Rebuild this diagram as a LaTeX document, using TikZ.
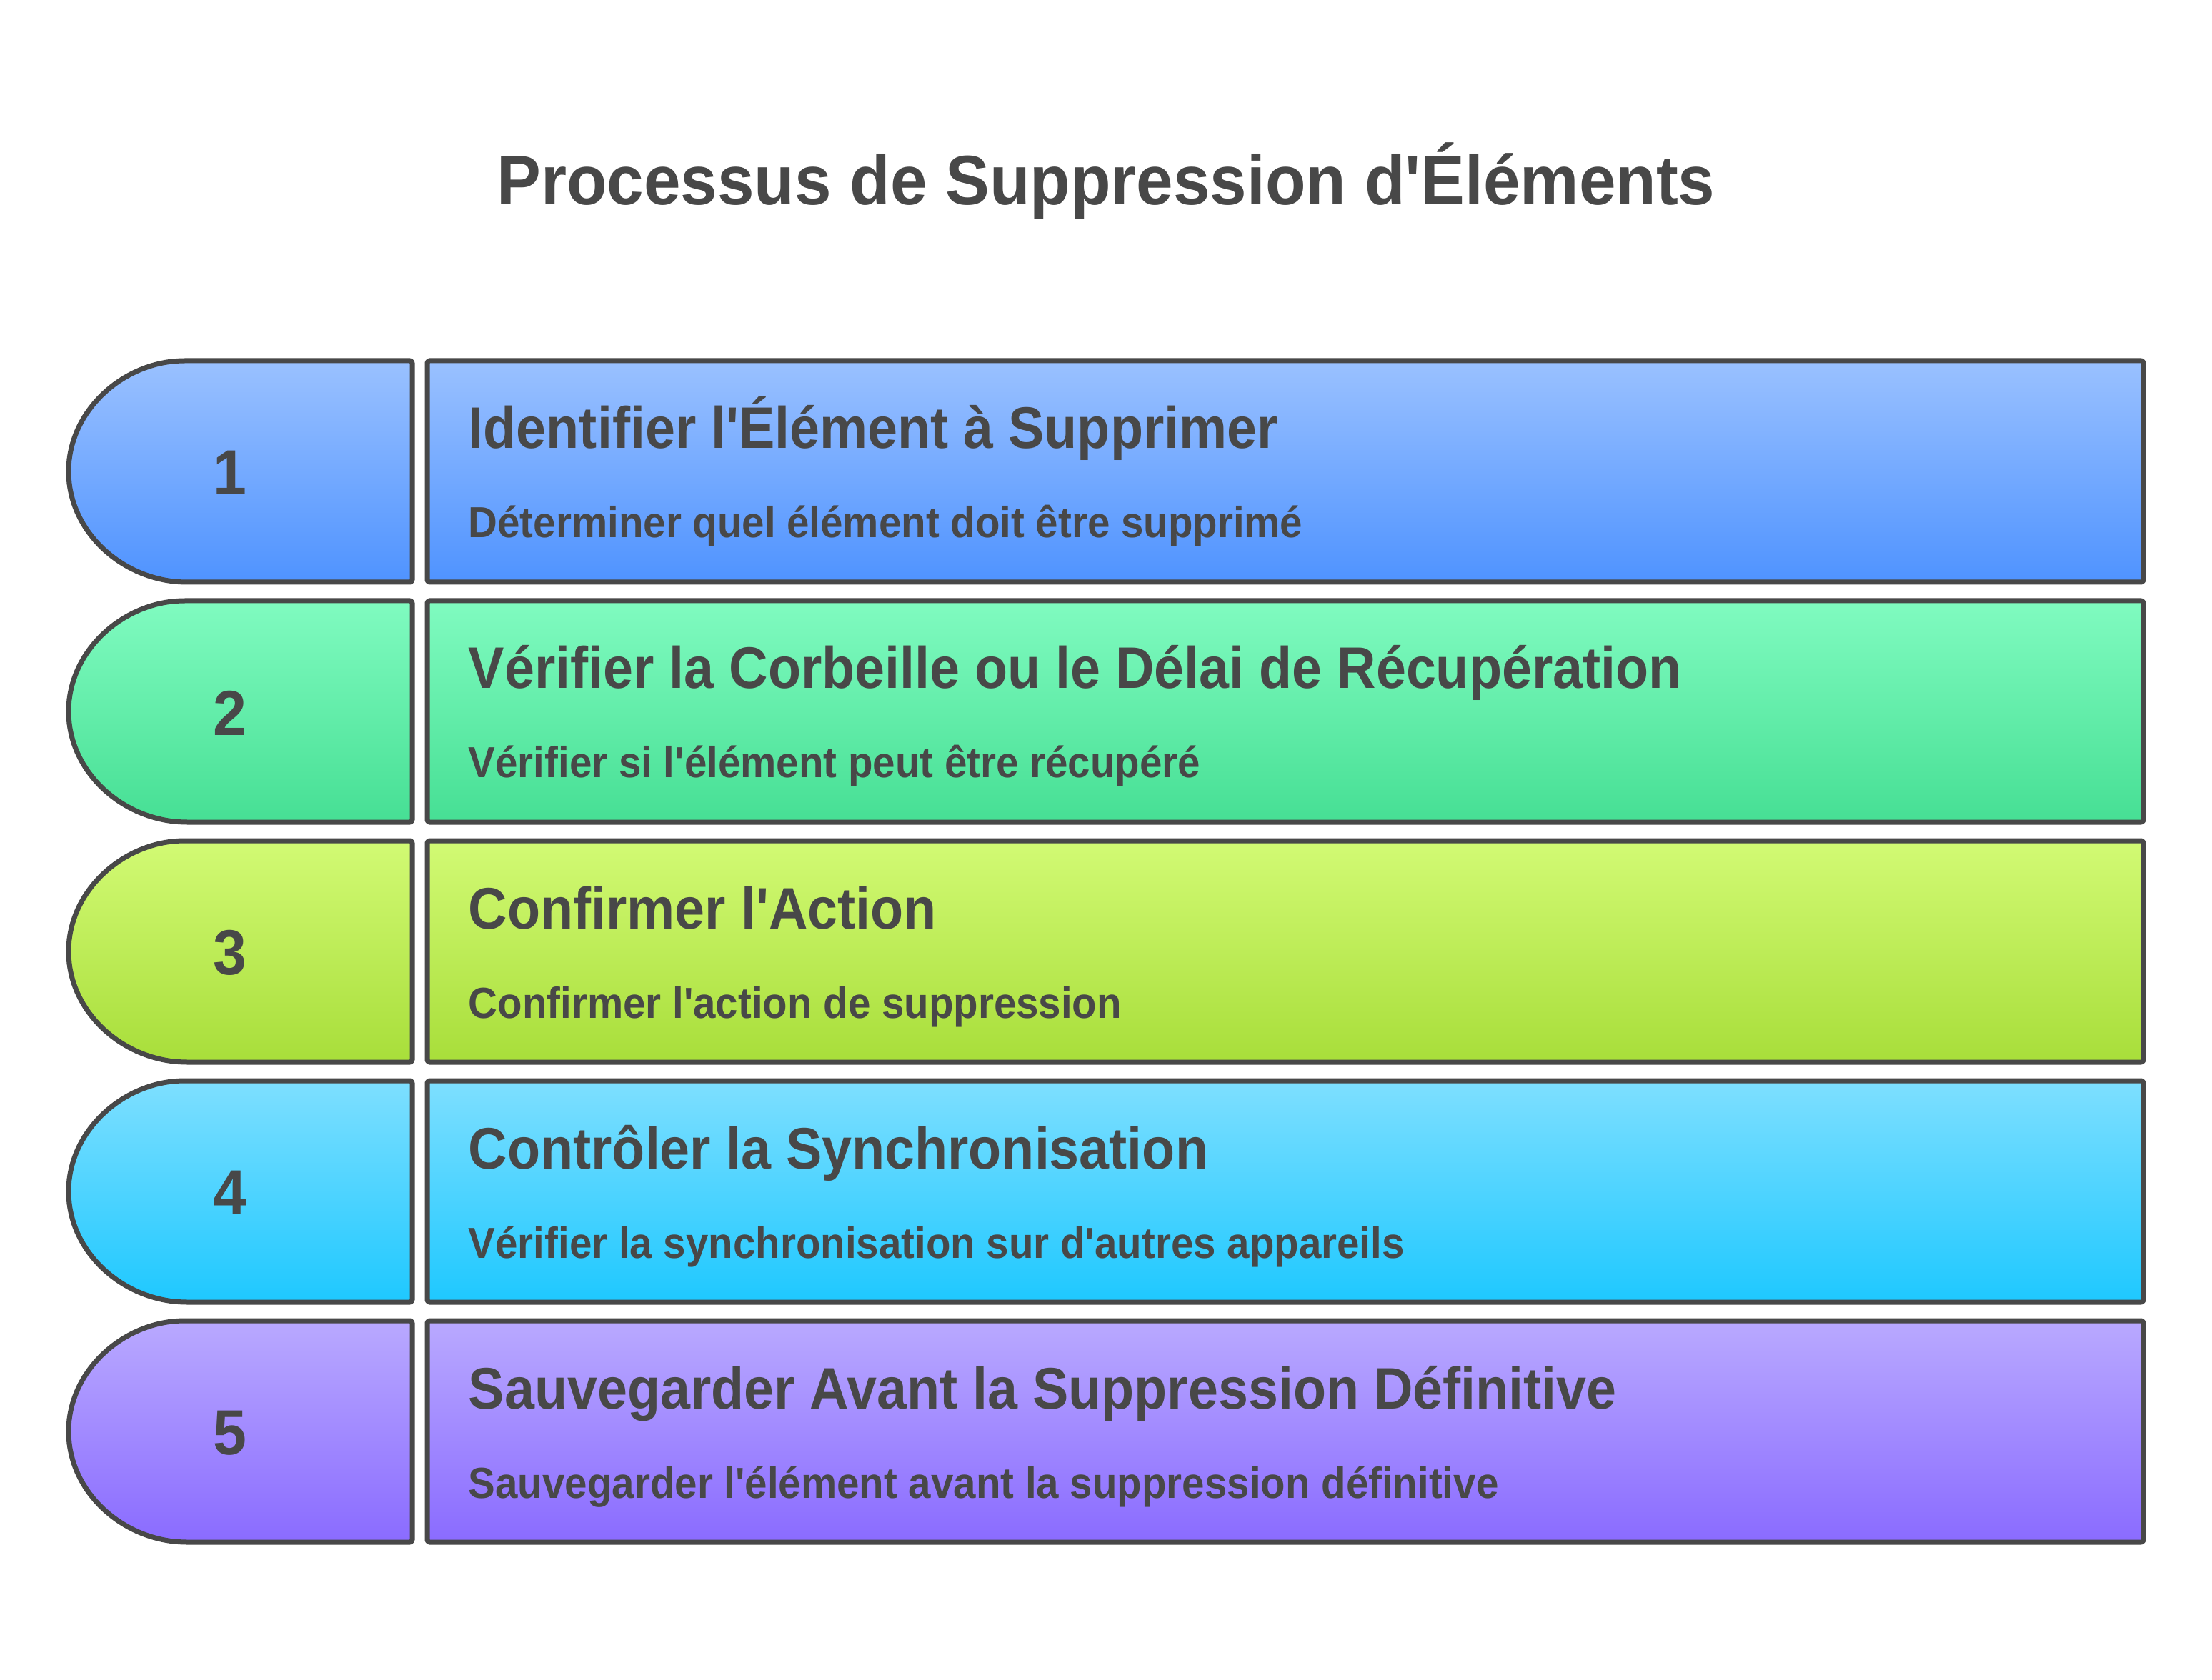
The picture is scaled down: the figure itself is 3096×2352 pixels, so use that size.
\documentclass[tikz,border=0pt]{standalone}
\usepackage{fontspec}
\setmainfont{Liberation Sans}
\newfontfamily\headfont{Liberation Sans}[FakeStretch=0.92]
\newfontfamily\subfont{Liberation Sans}[FakeStretch=0.929]
\newfontfamily\titlefont{Liberation Sans}[FakeStretch=0.945]
\usetikzlibrary{calc}
\definecolor{ink}{HTML}{484848}
\definecolor{aTop}{HTML}{9AC1FF}\definecolor{aBot}{HTML}{4F93FF}
\definecolor{bTop}{HTML}{80FBC0}\definecolor{bBot}{HTML}{46DF94}
\definecolor{cTop}{HTML}{D2FA74}\definecolor{cBot}{HTML}{A8DE3A}
\definecolor{dTop}{HTML}{7EDFFF}\definecolor{dBot}{HTML}{1EC8FF}
\definecolor{eTop}{HTML}{B9A9FF}\definecolor{eBot}{HTML}{8A6BFF}
\tikzset{
  boxline/.style={draw=ink, line width=1.75pt, line join=round},
  mainbox/.style={boxline, rectangle, rounded corners=0.8pt, minimum width=600.5pt, minimum height=77.5pt, inner sep=0pt, outer sep=0pt, anchor=north west},
  headtxt/.style={anchor=base west, inner sep=0pt, text=ink, font=\headfont\bfseries\fontsize{20.5pt}{24pt}\selectfont},
  subtxt/.style={anchor=base west, inner sep=0pt, text=ink, font=\subfont\bfseries\fontsize{15.2pt}{18pt}\selectfont},
  numtxt/.style={anchor=center, inner sep=0pt, text=ink, font=\titlefont\bfseries\fontsize{22.3pt}{26pt}\selectfont},
  titletxt/.style={anchor=base, inner sep=0pt, text=ink, font=\titlefont\bfseries\fontsize{24.5pt}{29pt}\selectfont},
}
\newcommand{\steprow}[7]{%
  % #1 index, #2 top y, #3 top col, #4 bot col, #5 number, #6 heading, #7 sub
  \pgfmathsetmacro{\rt}{#2}\pgfmathsetmacro{\rb}{#2+310}\pgfmathsetmacro{\rm}{#2+155}
  \shade[top color=#3, bottom color=#4]
    (577,\rt) -- (262,\rt) .. controls (173.7,\rt) and (96,\rt+69.4) .. (96,\rm)
    .. controls (96,\rb-69.4) and (173.7,\rb) .. (262,\rb) -- (577,\rb) -- cycle;
  \draw[boxline, rounded corners=0.8pt]
    (577,\rt) -- (262,\rt) [sharp corners] .. controls (173.7,\rt) and (96,\rt+69.4) .. (96,\rm)
    .. controls (96,\rb-69.4) and (173.7,\rb) .. (262,\rb) [rounded corners=0.8pt] -- (577,\rb) -- cycle;
  \node[numtxt] (num#1) at (322,\rm+2) {#5};
  \node[mainbox, top color=#3, bottom color=#4] (box#1) at (598,\rt) {};
  \node[headtxt] (head#1) at (655,\rt+123) {#6};
  \node[subtxt] (sub#1) at (655,\rt+248) {#7};
}
\begin{document}
\begin{tikzpicture}[x=0.25pt,y=-0.25pt]
\useasboundingbox[fill=white] (0,0) rectangle (3096,2352);
\node[titletxt] (title) at (1548,287) {Processus de Suppression d'Éléments};
\steprow{1}{505}{aTop}{aBot}{1}{Identifier l'Élément à Supprimer}{Déterminer quel élément doit être supprimé}
\steprow{2}{841}{bTop}{bBot}{2}{Vérifier la Corbeille ou le Délai de Récupération}{Vérifier si l'élément peut être récupéré}
\steprow{3}{1177}{cTop}{cBot}{3}{Confirmer l'Action}{Confirmer l'action de suppression}
\steprow{4}{1513}{dTop}{dBot}{4}{Contrôler la Synchronisation}{Vérifier la synchronisation sur d'autres appareils}
\steprow{5}{1849}{eTop}{eBot}{5}{Sauvegarder Avant la Suppression Définitive}{Sauvegarder l'élément avant la suppression définitive}
\end{tikzpicture}
\end{document}
